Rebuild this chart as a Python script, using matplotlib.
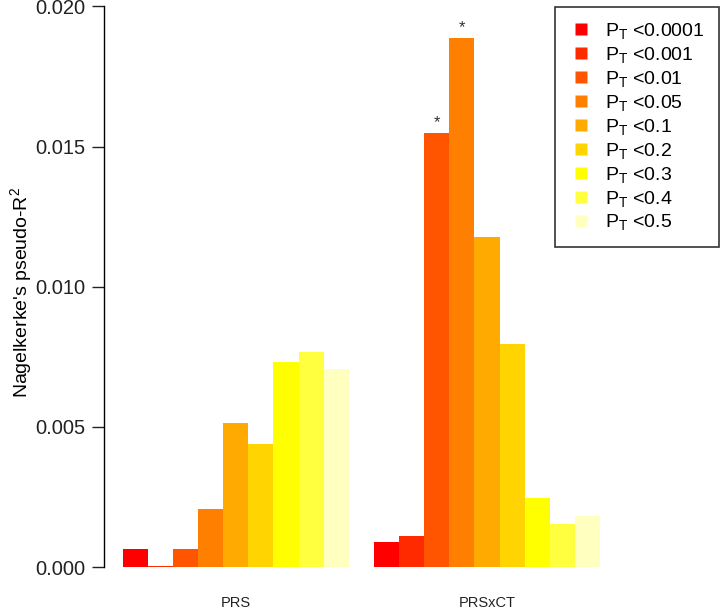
import matplotlib.pyplot as plt
from matplotlib.lines import Line2D

plt.rcParams['font.family'] = ['Liberation Sans', 'DejaVu Sans']

# p-value thresholds and Nagelkerke's R2 per model
thresholds = ["<0.0001", "<0.001", "<0.01", "<0.05", "<0.1", "<0.2", "<0.3", "<0.4", "<0.5"]
groups = ["PRS", "PRSxCT"]
prs = [0.00063, 0.00003, 0.00063, 0.00206, 0.00515, 0.00438, 0.00731, 0.00766, 0.00705]
prs_ct = [0.00091, 0.00109, 0.01549, 0.01888, 0.01179, 0.00795, 0.00247, 0.00153, 0.00181]
significant = [(1, 2), (1, 3)]  # (group, threshold index) marked with *

# R heat.colors(9)
colors = ["#FF0000", "#FF2A00", "#FF5500", "#FF8000", "#FFAA00",
          "#FFD400", "#FFFF00", "#FFFF40", "#FFFFBF"]

fig = plt.figure(figsize=(7.23, 6.13), dpi=100)
ax = fig.add_axes([0.1433, 0.0476, 0.713, 0.951])

n = len(thresholds)
values = [prs, prs_ct]
centers = []
for g, vals in enumerate(values):
    start = 1 + g * (n + 1)
    xs = [start + i + 0.5 for i in range(n)]
    ax.bar(xs, vals, width=1.0, color=colors, edgecolor="none")
    centers.append(start + n / 2)
    for gg, idx in significant:
        if gg == g:
            ax.annotate("*", (xs[idx], vals[idx]), xytext=(0, 2), textcoords="offset points",
                        ha="center", va="bottom", fontsize=12, color="#333333")

ax.set_xlim(0.24, 20.76)
ax.set_ylim(-0.0006, 0.0202)

for s in ["top", "right", "bottom"]:
    ax.spines[s].set_visible(False)
ax.spines["left"].set_bounds(0, 0.020)
ax.spines["left"].set_linewidth(1.0)
ax.set_yticks([0, 0.005, 0.010, 0.015, 0.020])
ax.set_yticklabels(["0.000", "0.005", "0.010", "0.015", "0.020"])
ax.tick_params(axis="y", length=9, width=1.0, labelsize=14.5, pad=4, colors="#222222")
ax.set_xticks(centers)
ax.set_xticklabels(groups)
ax.tick_params(axis="x", length=0, labelsize=10.5, pad=9, colors="#222222")
ax.set_ylabel("Nagelkerke's pseudo-R$\\mathregular{^2}$", fontsize=14, labelpad=1)

handles = [Line2D([], [], marker="s", linestyle="none", markersize=8,
                  markerfacecolor=c, markeredgecolor="none") for c in colors]
labels = ["$\\mathregular{P_T}$ " + t for t in thresholds]
leg = fig.legend(handles, labels, loc="upper right", bbox_to_anchor=(719 / 723, 1 - 6.7 / 613),
                 bbox_transform=fig.transFigure, fontsize=14, frameon=True, fancybox=False,
                 borderaxespad=0, labelspacing=0.2, handletextpad=0.7, borderpad=0.75,
                 handlelength=1.1)
leg.get_frame().set_edgecolor("black")
leg.get_frame().set_linewidth(1.2)

fig.savefig("out.png", dpi=100)
